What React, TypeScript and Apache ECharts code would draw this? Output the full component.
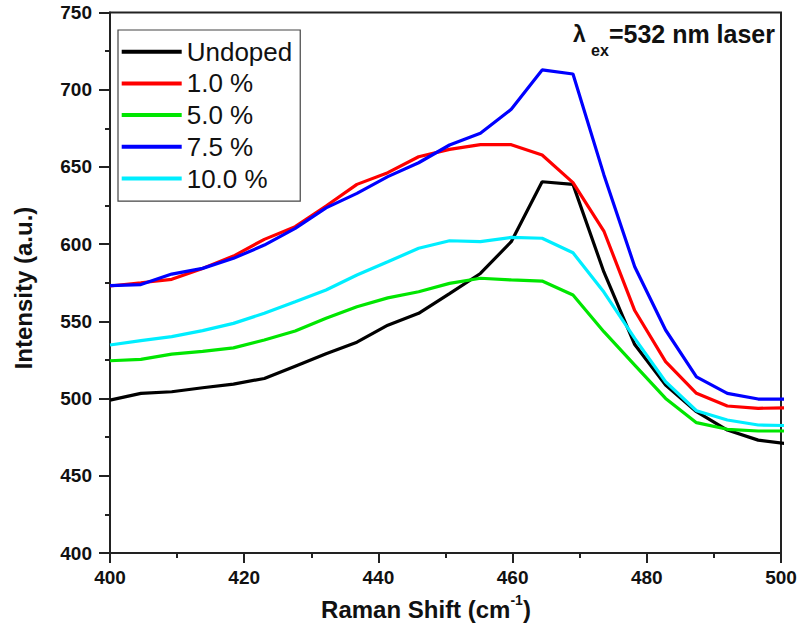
import React, { useEffect, useRef } from "react";
import * as echarts from "echarts";

const ramanShift = [400, 404.6, 409.2, 413.8, 418.4, 423.0, 427.6, 432.2, 436.8, 441.4, 446.0, 450.6, 455.2, 459.8, 464.4, 469.0, 473.6, 478.2, 482.8, 487.4, 492.0, 496.6, 501.2];

const undoped = [499, 503.4, 504.4, 507, 509.4, 513, 521, 529, 536.5, 547.5, 555.2, 568, 581, 601.6, 640.4, 638.7, 582, 535, 508.8, 491.5, 479.6, 473.1, 470.5];
const dop1 = [572.9, 575, 577.2, 584.3, 592.3, 603.1, 611.3, 624.7, 638.7, 646.3, 656.6, 661.4, 664.4, 664.4, 657.7, 639.8, 608.5, 557, 523.9, 503.4, 495.2, 493.7, 494];
const dop5 = [524.5, 525.4, 528.8, 530.6, 532.8, 537.9, 543.7, 552, 559.5, 565.2, 569.2, 574.6, 577.9, 576.8, 576.1, 567.1, 543.3, 521.7, 500.1, 484.4, 480.1, 479, 479];
const dop75 = [573.2, 573.8, 580.6, 584.3, 590.8, 599.4, 610.2, 623.5, 632.9, 643.7, 652.7, 664.2, 671.8, 687.3, 712.8, 710.2, 645, 585.4, 544.4, 514.1, 503.4, 499.7, 499.7];
const dop10 = [534.7, 537.5, 540.1, 544, 548.7, 555.2, 562.7, 570.3, 580, 588.6, 597.3, 602.2, 601.6, 604.4, 603.8, 594.4, 569, 539, 510.9, 492.1, 486.1, 482.9, 482.5];

const seriesNames = ["Undoped", "1.0 %", "5.0 %", "7.5 %", "10.0 %"];
const seriesColors = ["#000000", "#ff0000", "#00e600", "#0000ff", "#00eeff"];
const seriesValues = [undoped, dop1, dop5, dop75, dop10];

const xTicks = { min: 400, max: 500, interval: 20 };
const yTicks = { min: 400, max: 750, interval: 50 };

const FONT = "Arial, 'Liberation Sans', Helvetica, sans-serif";

export default function App() {
  const ref = useRef<HTMLDivElement>(null);
  useEffect(() => {
    if (!ref.current) return;
    const chart = echarts.init(ref.current, null, { renderer: "svg" });
    const series = seriesNames.map((name, i) => ({
      name,
      type: "line",
      data: ramanShift.map((x, j) => [x, seriesValues[i][j]]),
      symbol: "none",
      lineStyle: { color: seriesColors[i], width: 3.2 },
      itemStyle: { color: seriesColors[i] },
      clip: true,
      z: 3,
    }));
    chart.setOption({
      animation: false,
      backgroundColor: "#ffffff",
      textStyle: { fontFamily: FONT },
      grid: {
        left: 110,
        right: 19,
        top: 12.5,
        bottom: 87,
        show: true,
        borderColor: "#222",
        borderWidth: 2,
        backgroundColor: "transparent",
      },
      legend: {
        orient: "vertical",
        left: 118,
        top: 30,
        padding: [7.7, 8, 8.7, 3.7],
        borderColor: "#444",
        borderWidth: 1.2,
        icon: "rect",
        itemWidth: 60,
        itemHeight: 4,
        itemGap: 3.7,
        textStyle: { fontSize: 26, color: "#111", fontFamily: FONT, lineHeight: 28 },
        data: seriesNames.map((n, i) => ({ name: n, itemStyle: { color: seriesColors[i] } })),
      },
      xAxis: {
        type: "value",
        min: xTicks.min,
        max: xTicks.max,
        interval: xTicks.interval,
        axisLine: { onZero: false, lineStyle: { color: "#222", width: 2 } },
        axisTick: { inside: false, length: 10, lineStyle: { color: "#222", width: 2 } },
        minorTick: { show: true, splitNumber: 2, length: 5, lineStyle: { color: "#222", width: 2 } },
        splitLine: { show: false },
        axisLabel: { fontSize: 19, fontWeight: "bold", color: "#111", margin: 15, fontFamily: FONT },
      },
      yAxis: {
        type: "value",
        min: yTicks.min,
        max: yTicks.max,
        interval: yTicks.interval,
        axisLine: { show: true, onZero: false, lineStyle: { color: "#222", width: 2 } },
        axisTick: { show: true, inside: false, length: 11, lineStyle: { color: "#222", width: 2 } },
        minorTick: { show: true, splitNumber: 2, length: 5, lineStyle: { color: "#222", width: 2 } },
        splitLine: { show: false },
        axisLabel: { fontSize: 19, fontWeight: "bold", color: "#111", margin: 18, fontFamily: FONT },
      },
      graphic: [
        {
          type: "text",
          x: 426,
          y: 607,
          style: {
            text: "{t|Raman Shift (cm}{s|-1}{t|)}",
            align: "center",
            verticalAlign: "middle",
            fill: "#111",
            rich: {
              t: { fontSize: 24, fontWeight: "bold", fontFamily: FONT, lineHeight: 28, verticalAlign: "bottom" },
              s: { fontSize: 14, fontWeight: "bold", fontFamily: FONT, lineHeight: 28, verticalAlign: "top" },
            },
          },
        },
        {
          type: "text",
          x: 23,
          y: 288,
          rotation: Math.PI / 2,
          style: {
            text: "Intensity (a.u.)",
            align: "center",
            verticalAlign: "middle",
            fontSize: 24,
            fontWeight: "bold",
            fontFamily: FONT,
            fill: "#111",
          },
        },
        {
          type: "text",
          x: 573,
          y: 34,
          style: { text: "λ", fontSize: 23, fontWeight: "bold", fontFamily: FONT, fill: "#111", align: "left", verticalAlign: "middle" },
        },
        {
          type: "text",
          x: 591,
          y: 50,
          style: { text: "ex", fontSize: 16, fontWeight: "bold", fontFamily: FONT, fill: "#111", align: "left", verticalAlign: "middle" },
        },
        {
          type: "text",
          x: 775,
          y: 34,
          style: { text: "=532 nm laser", fontSize: 25, fontWeight: "bold", fontFamily: FONT, fill: "#111", align: "right", verticalAlign: "middle" },
        },
      ],
      series,
    });
    return () => chart.dispose();
  }, []);
  return <div ref={ref} style={{ width: 800, height: 640, position: "absolute", left: 0, top: 0 }} />;
}
